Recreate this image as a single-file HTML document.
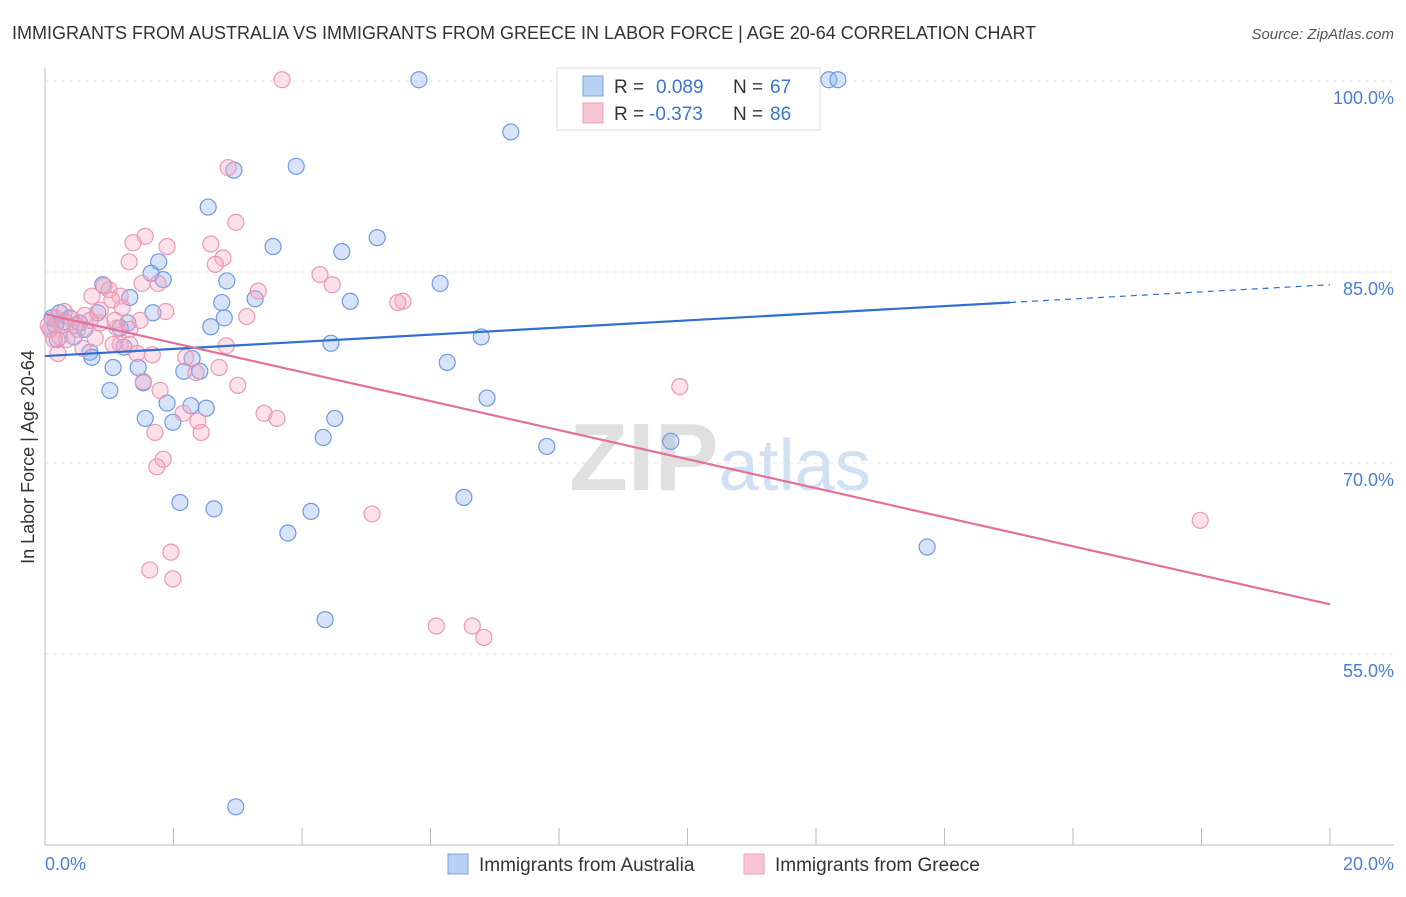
<!DOCTYPE html>
<html><head><meta charset="utf-8"><style>
body{margin:0;background:#fff;font-family:"Liberation Sans",sans-serif;}
svg text{font-family:"Liberation Sans",sans-serif;}
</style></head><body>
<svg id="chart" width="1406" height="892">
<text x="12" y="39" font-size="18" fill="#333">IMMIGRANTS FROM AUSTRALIA VS IMMIGRANTS FROM GREECE IN LABOR FORCE | AGE 20-64 CORRELATION CHART</text>
<text x="1394" y="39" font-size="15" fill="#555" text-anchor="end" font-style="italic">Source: ZipAtlas.com</text>
<text x="720" y="490" font-size="96" text-anchor="middle" font-family="Liberation Serif"><tspan fill="#e0e0e0" font-weight="bold">ZIP</tspan><tspan fill="#d2e0f4" font-family="Liberation Sans" font-size="72">atlas</tspan></text>
<g id="grid"></g>
<g id="axes"></g>
<g id="pts"></g>
<g id="lines"></g>
<text transform="translate(34,457) rotate(-90)" font-size="18" fill="#333" text-anchor="middle">In Labor Force | Age 20-64</text>
<text x="45" y="870" font-size="18" fill="#4a7fd4">0.0%</text>
<text x="1394" y="870" font-size="18" fill="#4a7fd4" text-anchor="end">20.0%</text>
<g>
<rect x="557" y="68" width="263" height="62" fill="#fff" stroke="#ddd"/>
<rect x="583" y="76" width="20" height="20" fill="#b9d0f2" stroke="#7aa3e0"/>
<rect x="583" y="103" width="20" height="20" fill="#f8c5d5" stroke="#eaa0ba"/>
<text x="614" y="93" font-size="19" fill="#333">R =</text>
<text x="656" y="93" font-size="19" fill="#3a74d0">0.089</text>
<text x="733" y="93" font-size="19" fill="#333">N =</text>
<text x="770" y="93" font-size="19" fill="#3a74d0">67</text>
<text x="614" y="120" font-size="19" fill="#333">R =</text>
<text x="649" y="120" font-size="19" fill="#3a74d0">-0.373</text>
<text x="733" y="120" font-size="19" fill="#333">N =</text>
<text x="770" y="120" font-size="19" fill="#3a74d0">86</text>
</g>
<g>
<rect x="448" y="854" width="20" height="20" fill="#b9d0f2" stroke="#7aa3e0"/>
<text x="479" y="871" font-size="19" fill="#333">Immigrants from Australia</text>
<rect x="744" y="854" width="20" height="20" fill="#f8c5d5" stroke="#eaa0ba"/>
<text x="775" y="871" font-size="19" fill="#333">Immigrants from Greece</text>
</g>
</svg>
<script>
const yTicks=[100,85,70,55];
const yTickLabels=["100.0%","85.0%","70.0%","55.0%"];
const xTicks=[0,2,4,6,8,10,12,14,16,18,20];
const ausX=[5.82,12.20,12.34,7.25,3.91,2.94,2.54,5.17,3.55,4.62,1.77,1.65,1.84,2.83,6.15,0.90,1.32,3.27,2.75,4.75,1.68,2.79,0.82,2.58,1.29,1.17,0.23,0.31,0.54,0.08,0.19,0.45,6.79,4.45,1.23,0.70,0.73,2.29,6.26,1.06,1.45,2.16,2.41,1.53,1.01,6.88,1.90,2.27,2.51,1.56,4.51,1.99,4.33,7.81,9.74,6.52,2.10,2.63,4.14,3.78,13.73,4.36,2.97,0.16,0.39,0.62,0.11];
const ausY=[100.1,100.1,100.1,96.0,93.3,93.0,90.1,87.7,87.0,86.6,85.8,84.9,84.4,84.3,84.1,84.0,83.0,82.9,82.6,82.7,81.8,81.4,81.8,80.7,81.0,80.6,81.8,81.1,81.0,80.5,79.7,79.9,79.9,79.4,79.1,78.7,78.3,78.2,77.9,77.5,77.5,77.2,77.2,76.3,75.7,75.1,74.7,74.5,74.3,73.5,73.5,73.2,72.0,71.3,71.7,67.3,66.9,66.4,66.2,64.5,63.4,57.7,43.0,80.8,81.4,80.5,81.4];
const grcX=[3.69,2.85,2.97,1.56,1.37,1.90,2.58,2.77,1.31,2.65,4.28,4.47,1.51,1.76,0.92,1.00,0.73,1.17,3.32,5.57,5.49,1.88,1.20,0.30,0.16,0.42,0.62,0.86,1.12,1.32,3.14,0.51,0.23,0.34,0.59,1.17,1.06,1.32,2.82,1.67,1.43,2.19,2.71,2.35,0.20,9.88,1.53,3.00,1.79,3.41,3.61,2.15,2.38,1.71,2.43,1.84,1.74,5.09,17.98,1.96,1.63,1.99,6.09,6.65,6.83,0.08,0.14,0.05,0.70,0.86,1.04,0.47,0.26,0.78,1.48,1.09];
const grcY=[100.1,93.2,88.9,87.8,87.3,87.0,87.2,86.1,85.8,85.6,84.8,84.0,84.1,84.1,83.9,83.6,83.1,83.1,83.5,82.7,82.6,81.9,82.2,81.9,81.4,81.3,81.6,81.0,80.6,80.5,81.5,80.5,79.9,79.7,79.0,79.3,79.3,79.3,79.2,78.5,78.6,78.3,77.5,77.1,78.6,76.0,76.4,76.1,75.7,73.9,73.5,73.9,73.3,72.4,72.4,70.3,69.7,66.0,65.5,63.0,61.6,60.9,57.2,57.2,56.3,80.5,79.7,80.8,81.2,82.0,82.8,80.8,80.8,79.8,81.2,81.2];
const ausTrend=[78.4,84.0];
const grcTrend=[81.7,58.9];
const NS="http://www.w3.org/2000/svg";
const X=v=>45+v/20*1285;
const Y=v=>81+(100-v)/15*191;
function mk(tag,attrs,parent){const e=document.createElementNS(NS,tag);for(const k in attrs)e.setAttribute(k,attrs[k]);parent.appendChild(e);return e;}
const grid=document.getElementById('grid'),axes=document.getElementById('axes'),pts=document.getElementById('pts'),lines=document.getElementById('lines');
yTicks.forEach((t,i)=>{
 const l=mk('line',{x1:45,x2:1394,y1:Y(t),y2:Y(t),stroke:'#e6e6e6','stroke-dasharray':'4,4'},grid);
 
 
 const tx=mk('text',{x:1394,y:Y(t)+23,'font-size':18,fill:'#4a7fd4','text-anchor':'end'},axes);
 tx.textContent=yTickLabels[i];
 
 
});
const ya=mk('line',{x1:45,x2:45,y1:68,y2:845,stroke:'#bbb'},axes);


const xa=mk('line',{x1:45,x2:1394,y1:845,y2:845,stroke:'#bbb'},axes);


xTicks.forEach(t=>{
 const l=mk('line',{x1:X(t),x2:X(t),y1:828,y2:845,stroke:'#bbb'},axes);
 
 
});
function dots(xs,ys,fill,stroke,name){
 xs.forEach((v,i)=>{
  const c=mk('circle',{cx:X(v),cy:Y(ys[i]),r:8,fill:fill,stroke:stroke,'stroke-width':1.2},pts);
  
  
 });
}
dots(ausX,ausY,'rgba(140,175,235,0.35)','#6f9ae0','point-australia');
dots(grcX,grcY,'rgba(245,170,195,0.35)','#eb98b5','point-greece');
const a1=mk('line',{x1:X(0),y1:Y(ausTrend[0]),x2:X(15.02),y2:Y(ausTrend[0]+(ausTrend[1]-ausTrend[0])*15.02/20),stroke:'#2f6fd0','stroke-width':2.2},lines);


const a2=mk('line',{x1:X(15.02),y1:Y(ausTrend[0]+(ausTrend[1]-ausTrend[0])*15.02/20),x2:X(20),y2:Y(ausTrend[1]),stroke:'#2f6fd0','stroke-width':1.2,'stroke-dasharray':'6,5'},lines);


const g1=mk('line',{x1:X(0),y1:Y(grcTrend[0]),x2:X(20),y2:Y(grcTrend[1]),stroke:'#e2709b','stroke-width':2.2},lines);


</script>
</body></html>
